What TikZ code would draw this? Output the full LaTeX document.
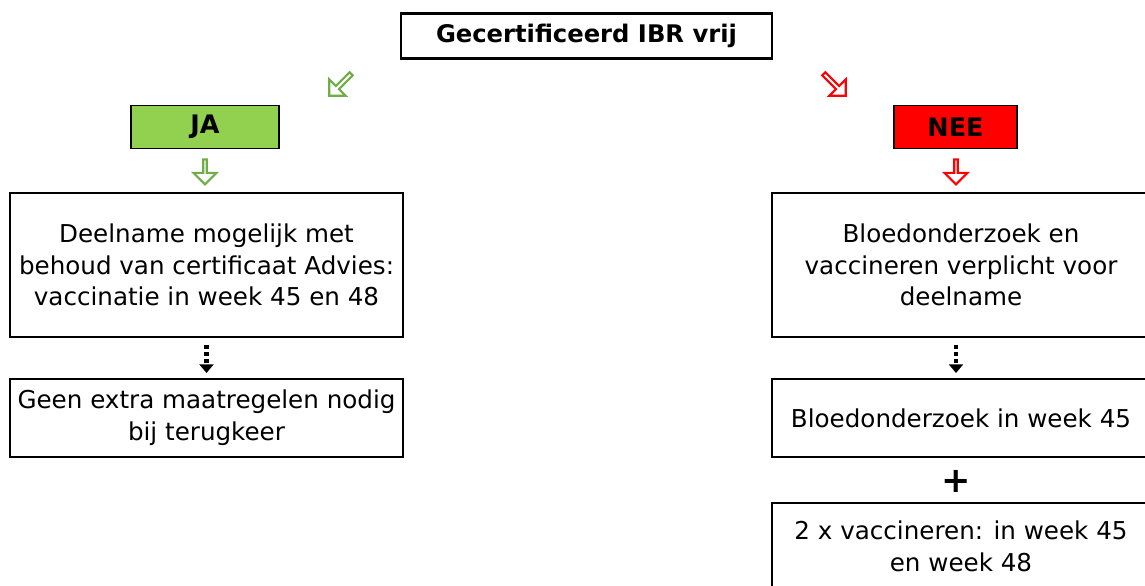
\documentclass[tikz,border=0pt]{standalone}
\usepackage{fontspec}
\setmainfont{DejaVu Sans}
\usetikzlibrary{shapes.arrows,arrows.meta}
\definecolor{jagreen}{HTML}{92D050}
\definecolor{jaline}{HTML}{70AD47}
\definecolor{neered}{HTML}{FF0000}
\tikzset{
	infobox/.style={draw, line width=0.8pt, align=center, font=\fontsize{14}{18}\selectfont, inner sep=0pt},
	hollowarrow/.style={single arrow, draw=#1, fill=white, line width=1.2pt, minimum height=0.5cm, minimum width=0.46cm, single arrow head extend=0.12cm, inner sep=0pt},
	dotarrow/.style={line width=2.4pt, dash pattern=on 2.6pt off 1.4pt, -{Triangle[width=8pt,length=5pt]}, shorten <=4pt, shorten >=3pt}
}

\begin{document}
\begin{tikzpicture}[x=0.02cm,y=-0.02cm]
				\useasboundingbox (0,0) rectangle (1145,585);
				
				\node[draw, line width=1.3pt, minimum width=7.42cm, minimum height=0.9cm, font=\fontsize{13.8}{16}\selectfont\bfseries] (titel) at (586.5,36) {Gecertificeerd IBR vrij};
				
				\node[hollowarrow=jaline, rotate=225, minimum height=0.62cm, single arrow head extend=0.09cm] (pijlja) at (341,84) {};
				\node[hollowarrow=neered, rotate=-45, minimum height=0.62cm, single arrow head extend=0.09cm] (pijlnee) at (834,84) {};
				
				\node[draw, fill=jagreen, line width=0.8pt, minimum width=2.96cm, minimum height=0.86cm, font=\fontsize{14.5}{16}\selectfont\bfseries] (ja) at (205,127) {JA};
				\node[draw, fill=neered, line width=0.8pt, minimum width=2.46cm, minimum height=0.86cm, font=\fontsize{14.5}{16}\selectfont\bfseries] (nee) at (955.5,127) {NEE};
				
				\node[hollowarrow=jaline, rotate=-90] (pijlja2) at (205,171) {};
				\node[hollowarrow=neered, rotate=-90] (pijlnee2) at (956,171) {};
				
				% linker kolom
				\node[infobox, minimum width=7.86cm, minimum height=2.88cm] (deelname) at (206.5,265) {Deelname mogelijk met\\behoud van certificaat Advies:\\vaccinatie in week 45 en 48};
				\node[infobox, minimum width=7.86cm, minimum height=1.56cm] (geen) at (206.5,418) {Geen extra maatregelen nodig\\bij terugkeer};
				\draw[dotarrow] (deelname.south) -- (geen.north);
				
				% rechter kolom
				\node[infobox, minimum width=7.56cm, minimum height=2.88cm] (bloed) at (961,265) {Bloedonderzoek en\\vaccineren verplicht voor\\deelname};
				\node[infobox, minimum width=7.56cm, minimum height=1.56cm] (bloed45) at (961,418) {Bloedonderzoek in week 45};
				\node[infobox, minimum width=7.56cm, minimum height=1.74cm] (vacc) at (961,546.5) {2 x vaccineren: in week 45\\en week 48};
				\draw[dotarrow] (bloed.south -| pijlnee2) -- (bloed45.north -| pijlnee2);
				\node[font=\fontsize{20}{20}\selectfont\bfseries] (plus) at (956,481) {+};
			\end{tikzpicture}
\end{document}
